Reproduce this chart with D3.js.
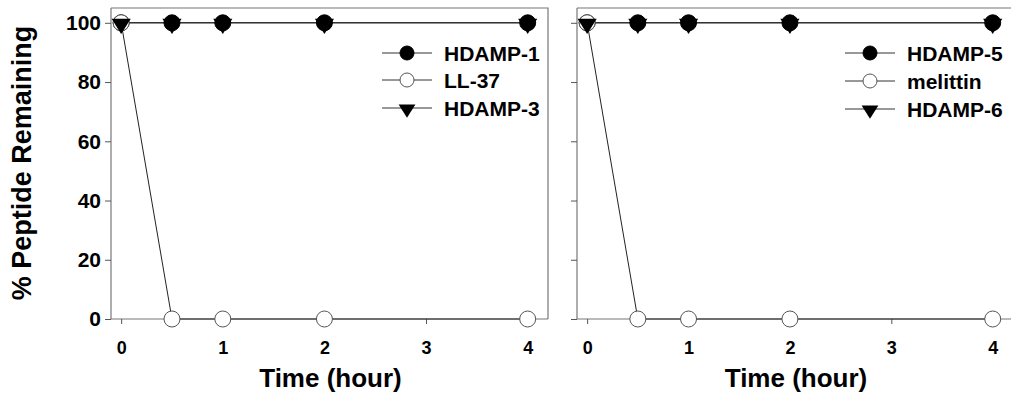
<!DOCTYPE html>
<html><head><meta charset="utf-8">
<script src="https://cdn.jsdelivr.net/npm/d3@7"></script>
<style>body{margin:0;background:#fff}svg{display:block;font-family:Arial,"Liberation Sans",sans-serif}</style>
</head><body><svg id="c" width="1011" height="394"></svg>
<script>
const times = [0, 0.5, 1, 2, 4];
const xTicks = [0, 1, 2, 3, 4];
const yTicks = [0, 20, 40, 60, 80, 100];
const leftNames = ["HDAMP-1", "LL-37", "HDAMP-3"];
const rightNames = ["HDAMP-5", "melittin", "HDAMP-6"];
const hdamp1 = [100, 100, 100, 100, 100];
const ll37 = [100, 0, 0, 0, 0];
const hdamp3 = [100, 100, 100, 100, 100];
const hdamp5 = [100, 100, 100, 100, 100];
const melittin = [100, 0, 0, 0, 0];
const hdamp6 = [100, 100, 100, 100, 100];
const markerTypes = ["filled", "open", "triangle"];

const svg = d3.select("#c");
const y = d3.scaleLinear().domain([0, 105]).range([319, 8]);

function marker(sel, type, r) {
  if (type === "triangle") {
    const w = r * 1.2;
    sel.append("path").attr("d", `M${-w},${-r*0.5}L${w},${-r*0.5}L0,${r*1.4}Z`).attr("fill", "#000");
  } else {
    sel.append("circle").attr("r", r).attr("fill", type === "filled" ? "#000" : "#fff")
      .attr("stroke", type === "filled" ? "#000" : "#555").attr("stroke-width", 1);
  }
}

function panel(x0, x1, series, names, showYLabels, legX, legRows) {
  const x = d3.scaleLinear().domain([-0.1, 4.2]).range([x0, x1]);
  const g = svg.append("g");
  g.append("path").attr("d", `M${x0},${y.range()[1]}H${x1}V${y.range()[0]}`)
    .attr("fill", "none").attr("stroke", "#777").attr("stroke-width", 1.2);
  const ya = d3.axisLeft(y).tickValues(yTicks).tickSize(6).tickFormat(showYLabels ? d3.format("d") : "");
  const yg = g.append("g").attr("transform", `translate(${x0},0)`).call(ya);
  yg.select(".domain").attr("stroke", "#777").attr("stroke-width", 1.2).attr("d", `M0,${y.range()[1]}V${y.range()[0]}`);
  yg.selectAll(".tick line").attr("stroke", "#555");
  yg.selectAll(".tick text").attr("font-size", 21).attr("font-weight", "bold").attr("fill", "#000").attr("x", -10);
  const xa = d3.axisBottom(x).tickValues(xTicks).tickSize(5).tickFormat(d3.format("d"));
  const xg = g.append("g").attr("transform", `translate(0,${y(0)})`).call(xa);
  xg.select(".domain").attr("stroke", "#777").attr("stroke-width", 1.2).attr("d", `M${x0},0H${x1}`);
  xg.selectAll(".tick line").attr("stroke", "#555");
  xg.selectAll(".tick text").attr("font-size", 18).attr("font-weight", "bold").attr("fill", "#000").attr("dy", "1.5em");
  g.append("text").attr("x", (x0 + x1) / 2 + 1).attr("y", 387).attr("text-anchor", "middle")
    .attr("font-size", 26).attr("font-weight", "bold").text("Time (hour)");

  const line = d3.line().x((d, i) => x(times[i])).y(d => y(d));
  series.forEach(s => {
    g.append("path").attr("d", line(s)).attr("fill", "none").attr("stroke", "#222").attr("stroke-width", 1);
  });
  [0, 1, 2].forEach(k => {
    series[k].forEach((v, i) => {
      const m = g.append("g").attr("transform", `translate(${x(times[i])},${y(v)})`);
      marker(m, markerTypes[k], 8);
    });
  });
  names.forEach((n, k) => {
    const ly = legRows[k];
    g.append("line").attr("x1", legX).attr("x2", legX + 50).attr("y1", ly).attr("y2", ly)
      .attr("stroke", "#333").attr("stroke-width", 1);
    const m = g.append("g").attr("transform", `translate(${legX + 25},${ly})`);
    marker(m, markerTypes[k], 7);
    g.append("text").attr("x", legX + 62).attr("y", ly).attr("dy", "0.36em")
      .attr("font-size", 21).attr("font-weight", "bold").text(n);
  });
}

panel(111, 548, [hdamp1, ll37, hdamp3], leftNames, true, 382, [53, 80, 108]);
panel(577, 1013, [hdamp5, melittin, hdamp6], rightNames, false, 845, [53, 81, 109]);

svg.append("text").attr("transform", "translate(31,163) rotate(-90)").attr("text-anchor", "middle")
  .attr("font-size", 27).attr("font-weight", "bold").text("% Peptide Remaining");
</script></body></html>
